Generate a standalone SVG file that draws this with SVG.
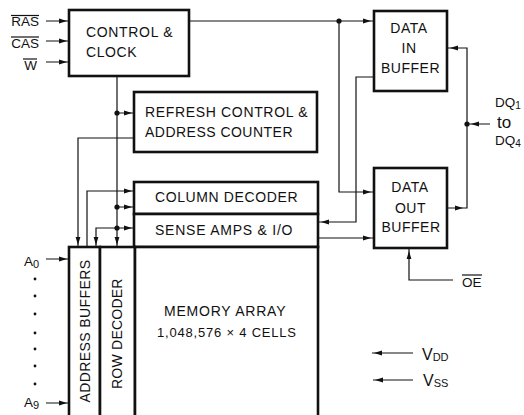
<svg xmlns="http://www.w3.org/2000/svg" xmlns:xlink="http://www.w3.org/1999/xlink" width="524" height="415" viewBox="0 0 524 415">
<style>
.box{fill:#fff;stroke:#111;stroke-width:2.6}
.w{fill:none;stroke:#111;stroke-width:1.2}
.ah{fill:#111}
.dot{fill:#111}
text{font-family:"Liberation Sans",Arial,sans-serif;fill:#111}
.t{font-size:14px;letter-spacing:0.5px}
.p{font-size:13.5px}
.ol{stroke:#111;stroke-width:1.2}
</style>
<defs>
<path id="ah" d="M0,0 L-8,-2.4 L-8,2.4 Z"/>
</defs>
<rect width="524" height="415" fill="#fff"/>

<g id="connectors">
<path class="w" d="M46,21H69 M46,41H69 M46,62H69 M46,259H69 M46,403H69"/>
<path class="w" d="M189,21H374"/>
<path class="w" d="M117,76V247 M117,113H134"/>
<path class="w" d="M134,138H78V247"/>
<path class="w" d="M87,247V191H134"/>
<path class="w" d="M117,207H134 M134,228H96V247"/>
<path class="w" d="M339,21V192H374"/>
<path class="w" d="M374,77H356V222H318"/>
<path class="w" d="M318,238H374"/>
<path class="w" d="M447,48H467V208H447 M490,124H467"/>
<path class="w" d="M453,280H409V248"/>
<path class="w" d="M372,353H413 M373,380H413"/>
<g class="ah">
<use xlink:href="#ah" transform="translate(67,21)"/>
<use xlink:href="#ah" transform="translate(67,41)"/>
<use xlink:href="#ah" transform="translate(67,62)"/>
<use xlink:href="#ah" transform="translate(67,259)"/>
<use xlink:href="#ah" transform="translate(67,403)"/>
<use xlink:href="#ah" transform="translate(371,21)"/>
<use xlink:href="#ah" transform="translate(132,113)"/>
<use xlink:href="#ah" transform="translate(78,245) rotate(90)"/>
<use xlink:href="#ah" transform="translate(132,191)"/>
<use xlink:href="#ah" transform="translate(132,207)"/>
<use xlink:href="#ah" transform="translate(132,228)"/>
<use xlink:href="#ah" transform="translate(96,245) rotate(90)"/>
<use xlink:href="#ah" transform="translate(117,245) rotate(90)"/>
<use xlink:href="#ah" transform="translate(371,192)"/>
<use xlink:href="#ah" transform="translate(321,222) rotate(180)"/>
<use xlink:href="#ah" transform="translate(371,238)"/>
<use xlink:href="#ah" transform="translate(450,48) rotate(180)"/>
<use xlink:href="#ah" transform="translate(463,208)"/>
<use xlink:href="#ah" transform="translate(471,124) rotate(180)"/>
<use xlink:href="#ah" transform="translate(409,251) rotate(-90)"/>
<use xlink:href="#ah" transform="translate(374,353) rotate(180)"/>
<use xlink:href="#ah" transform="translate(375,380) rotate(180)"/>
</g>
<g class="dot">
<circle cx="339" cy="21" r="2.6"/>
<circle cx="117" cy="113" r="2.6"/>
<circle cx="117" cy="207" r="2.6"/>
<circle cx="117" cy="228" r="2.6"/>
<circle cx="467" cy="124" r="2.6"/>
<circle cx="35" cy="279" r="1.4"/>
<circle cx="35" cy="296" r="1.4"/>
<circle cx="35" cy="314" r="1.4"/>
<circle cx="35" cy="333" r="1.4"/>
<circle cx="35" cy="349" r="1.4"/>
<circle cx="35" cy="366" r="1.4"/>
<circle cx="35" cy="384" r="1.4"/>
</g>
</g>

<g id="pins">
<text class="p" x="39" y="26" text-anchor="end">RAS</text>
<line class="ol" x1="11" y1="15.5" x2="39" y2="15.5"/>
<text class="p" x="39" y="48" text-anchor="end">CAS</text>
<line class="ol" x1="11" y1="37" x2="39" y2="37"/>
<text class="p" x="37" y="70" text-anchor="end">W</text>
<line class="ol" x1="23" y1="59" x2="37" y2="59"/>
<text class="p" x="24" y="266">A<tspan font-size="11" dy="2">0</tspan></text>
<text class="p" x="24" y="407">A<tspan font-size="11" dy="2">9</tspan></text>
<text class="p" x="462" y="287">OE</text>
<line class="ol" x1="462" y1="275" x2="482" y2="275"/>
<text x="422" y="360" font-size="16">V<tspan font-size="11" dy="1">DD</tspan></text>
<text x="423" y="386" font-size="16">V<tspan font-size="11" dy="1">SS</tspan></text>
<text class="p" x="495" y="107">DQ<tspan font-size="10" dy="2">1</tspan></text>
<text x="497" y="128" font-size="17">to</text>
<text class="p" x="495" y="145">DQ<tspan font-size="10" dy="2">4</tspan></text>
</g>

<g id="control">
<rect class="box" x="69" y="10" width="120" height="66"/>
<text class="t" x="86" y="37" textLength="87">CONTROL &amp;</text>
<text class="t" x="86" y="57" textLength="51">CLOCK</text>
</g>

<g id="data-in">
<rect class="box" x="374" y="11" width="73" height="80"/>
<text class="t" x="409" y="33" text-anchor="middle">DATA</text>
<text class="t" x="409" y="53" text-anchor="middle">IN</text>
<text class="t" x="410.5" y="73" text-anchor="middle">BUFFER</text>
</g>

<g id="refresh">
<rect class="box" x="134" y="92" width="183" height="60"/>
<text class="t" x="145" y="117" textLength="163">REFRESH CONTROL &amp;</text>
<text class="t" x="145" y="137" textLength="148">ADDRESS COUNTER</text>
</g>

<g id="column-decoder">
<rect class="box" x="134" y="182" width="184" height="32"/>
<text class="t" x="155" y="202" textLength="143">COLUMN DECODER</text>
</g>

<g id="sense-amps">
<rect class="box" x="134" y="214" width="184" height="33"/>
<text class="t" x="155" y="235" textLength="138">SENSE AMPS &amp; I/O</text>
</g>

<g id="data-out">
<rect class="box" x="374" y="168" width="73" height="80"/>
<text class="t" x="410" y="192" text-anchor="middle">DATA</text>
<text class="t" x="410.5" y="213" text-anchor="middle">OUT</text>
<text class="t" x="411" y="232" text-anchor="middle">BUFFER</text>
</g>

<g id="address-buffers">
<rect class="box" x="69" y="247" width="31" height="180"/>
<text class="t" transform="translate(90,331) rotate(-90)" x="-71.5" y="0" textLength="143">ADDRESS BUFFERS</text>
</g>

<g id="row-decoder">
<rect class="box" x="100" y="247" width="35" height="180"/>
<text class="t" transform="translate(122,333.5) rotate(-90)" x="-55.5" y="0" textLength="111">ROW DECODER</text>
</g>

<g id="memory-array">
<rect class="box" x="135" y="247" width="183" height="180"/>
<text class="t" x="164" y="316" textLength="122">MEMORY ARRAY</text>
<text x="157" y="337" font-size="13" textLength="139">1,048,576 × 4 CELLS</text>
</g>
</svg>
